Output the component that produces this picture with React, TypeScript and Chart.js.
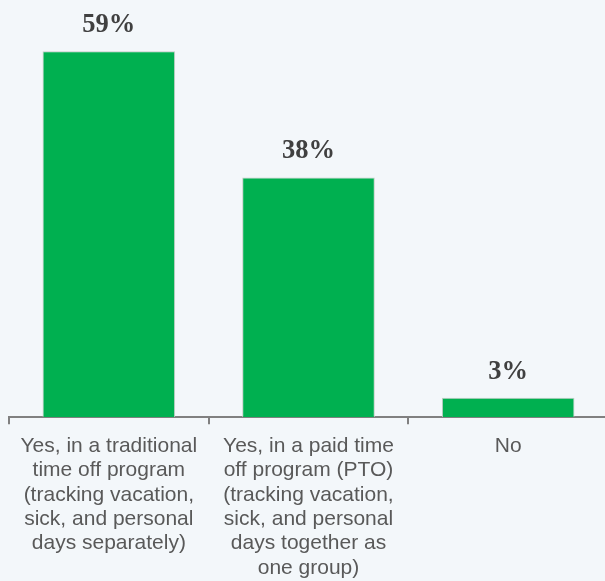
import React, { useEffect, useRef } from "react";
import { Chart, registerables } from "chart.js";

Chart.register(...registerables);

const categories: string[][] = [
  ["Yes, in a traditional", "time off program", "(tracking vacation,", "sick, and personal", "days separately)"],
  ["Yes, in a paid time", "off program (PTO)", "(tracking vacation,", "sick, and personal", "days together as", "one group)"],
  ["No"],
];
const values: number[] = [58.6, 38.4, 3.1];
const valueLabels: string[] = ["59%", "38%", "3%"];

const BG = "#f3f7fa";

const labelPlugin = {
  id: "valueLabels",
  afterDatasetsDraw(chart: any) {
    const ctx = chart.ctx;
    const meta = chart.getDatasetMeta(0);
    ctx.save();
    ctx.font = 'bold 26.5px "Liberation Serif", "Times New Roman", serif';
    ctx.fillStyle = "#404040";
    ctx.textAlign = "center";
    ctx.textBaseline = "alphabetic";
    meta.data.forEach((bar: any, i: number) => {
      ctx.fillText(valueLabels[i], bar.x, bar.y - 19);
    });
    ctx.restore();
  },
};

export default function App() {
  const ref = useRef<HTMLCanvasElement | null>(null);
  useEffect(() => {
    if (!ref.current) return;
    const chart = new Chart(ref.current, {
      type: "bar",
      data: {
        labels: categories as any,
        datasets: [
          {
            data: values,
            backgroundColor: "#00b050",
            borderColor: "#c3cbc6",
            borderWidth: 1,
            categoryPercentage: 1,
            barPercentage: 0.664,
          },
        ],
      },
      options: {
        animation: false,
        responsive: false,
        maintainAspectRatio: false,
        layout: { padding: { left: 9, right: 0, top: 30, bottom: -9 } },
        plugins: { legend: { display: false }, tooltip: { enabled: false } },
        scales: {
          y: { display: false, min: 0, max: 62 },
          x: {
            border: { display: true, color: "#808080", width: 2 },
            grid: {
              display: true,
              drawOnChartArea: false,
              drawTicks: true,
              tickLength: 7,
              color: "#808080",
              lineWidth: 2,
              offset: true,
            },
            ticks: {
              color: "#595959",
              padding: 10,
              maxRotation: 0,
              autoSkip: false,
              font: { family: '"Liberation Sans", Arial, sans-serif', size: 21, lineHeight: 1.157 },
            },
          },
        },
      },
      plugins: [labelPlugin],
    });
    return () => chart.destroy();
  }, []);
  return (
    <div style={{ position: "absolute", left: 0, top: 0, width: 605, height: 581, background: BG, overflow: "hidden" }}>
      <canvas ref={ref} width={608} height={581} style={{ display: "block" }} />
    </div>
  );
}
